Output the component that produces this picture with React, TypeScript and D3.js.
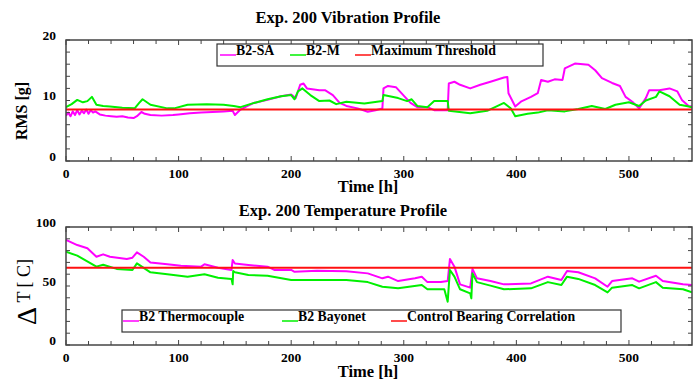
import React from "react";
import * as d3 from "d3";

// ---------- Data ----------
const vibSAHours = [0,2,4,6,8,10,12,14,16,18,20,22,24,26,30,35,40,45,50,55,60,63,67,70,75,85,95,100,110,120,130,140,148,150,155,160,167,179,191,200,204,208,211,214,225,230,237,243,249,259,268,275,281,282,286,293,301,306,312,321,327,339,340,345,350,359,368,377,389,392,393,399,404,413,419,422,428,434,441,443,452,464,470,476,485,492,497,503,509,515,518,527,536,543,547,553,556];
const vibSAValues = [7.5,8.0,7.4,8.2,7.6,8.4,7.7,8.3,7.9,8.5,7.8,8.4,8.0,8.2,7.7,7.5,7.4,7.3,7.4,7.2,7.1,7.4,8.1,7.8,7.6,7.5,7.6,7.7,7.9,8.0,8.1,8.2,8.3,7.6,8.5,9.0,9.6,10.1,10.7,11.0,10.4,12.6,12.8,12.0,11.7,11.7,10.9,9.6,9.1,8.7,8.15,8.4,8.7,12.0,12.4,12.2,10.6,9.6,8.9,8.9,8.4,8.4,12.8,13.1,12.6,12.0,12.6,13.1,13.8,13.9,11.2,9.0,9.8,10.6,11.2,13.4,13.1,13.5,13.4,15.3,16.1,15.9,15.0,13.7,12.9,12.4,10.6,9.8,8.7,10.4,11.7,11.7,12.0,11.5,10.1,9.1,9.0];

const vibMHours = [0,5,10,15,19,23,27,33,39,50,61,65,68,75,90,96,108,125,140,149,155,167,179,191,200,203,206,210,217,225,234,240,249,265,281,282,295,303,307,312,321,327,339,340,359,374,389,395,399,410,419,428,443,455,467,479,488,500,509,515,524,527,536,545,551,556];
const vibMValues = [8.9,9.4,10.1,9.7,9.9,10.6,9.3,9.1,9.0,8.8,8.7,9.6,10.2,9.3,8.7,8.7,9.3,9.4,9.3,9.1,8.9,9.6,10.2,10.7,10.9,10.2,11.5,12.0,10.9,9.9,10.0,9.4,9.8,9.5,9.9,10.9,10.4,9.9,10.2,9.1,8.9,9.9,9.9,8.3,7.9,8.3,9.6,8.7,7.4,7.8,8.0,8.4,8.2,8.6,9.1,8.6,9.3,9.7,9.1,10.0,10.6,11.5,10.7,9.3,9.1,8.9];

const vibThreshold = 8.5;

const tempTCHours = [0,10,19,27,33,39,54,59,63,69,75,90,102,120,123,135,147,148,150,162,179,185,200,203,223,249,268,281,286,295,310,316,321,333,339,341,345,350,359,361,365,377,389,413,428,440,445,455,470,481,485,503,509,524,530,548,556];
const tempTCValues = [89,84.7,82,74.8,76.8,74.8,72.9,74,78.5,74.8,70,68.4,67.2,66.4,68.4,65.5,63.6,72,69,67.8,66.4,63.6,63.6,62,62.9,62.5,60.7,56.5,57.9,54.2,56.5,57.9,53.3,53.3,54.2,72.9,66.4,51.4,48.6,64.4,56.5,54.2,51.4,52.2,57.9,55.1,62.7,61.6,56.5,49.4,54.2,56.5,53.7,58.7,54.2,51.4,50.8];

const tempBayHours = [0,10,27,33,45,59,63,75,90,108,123,135,147,148,148.5,150,162,179,200,223,249,268,281,295,316,321,336,339,341,345,350,359,360,361,365,377,389,413,428,440,445,455,470,481,485,503,509,524,530,548,556];
const tempBayValues = [79,75.7,66.4,68,64.5,63.6,69.2,61.6,59.9,57.9,59.9,57,56,51.4,62.7,61.6,59.3,58.6,55,55,55,53.3,49.4,48,50.8,47.2,47.2,36.7,63.6,57.9,47.2,43.8,39.5,60.7,53.3,50.3,47.2,48,53.3,50.8,57.9,56,50.8,44.6,48.6,50.8,48,53.3,48.6,47.2,44.6];

const tempControl = 65.5;

const xTicks = [0, 100, 200, 300, 400, 500];
const vibYTicks = [0, 10, 20];
const tempYTicks = [0, 50, 100];

const vibLegend = ["B2-SA", "B2-M", "Maximum Threshold"];
const tempLegend = ["B2 Thermocouple", "B2 Bayonet", "Control Bearing Correlation"];

const MAGENTA = "#ff00ff";
const GREEN = "#00f000";
const RED = "#ff1010";
const FONT = "'Liberation Serif', 'Times New Roman', serif";

type Pt = [number, number];
const zip = (a: number[], b: number[]): Pt[] => a.map((h, i) => [h, b[i]]);

function Panel(props: {
  top: number; bottom: number; yMax: number; yTicks: number[]; minorStep: number;
  series: { pts: Pt[]; color: string }[]; ref: number;
}) {
  const { top, bottom, yMax, yTicks, minorStep, series } = props;
  const left = 66, right = 692;
  const x = d3.scaleLinear().domain([0, 556]).range([left, right]);
  const y = d3.scaleLinear().domain([0, yMax]).range([bottom, top]);
  const line = d3.line<Pt>().x(d => x(d[0])).y(d => y(d[1]));
  const xMinor = d3.range(0, 557, 20);
  const yMinor = d3.range(0, yMax + 0.001, minorStep);
  return (
    <g>
      <clipPath id={"clip" + top}>
        <rect x={left} y={top} width={right - left} height={bottom - top} />
      </clipPath>
      <g clipPath={`url(#clip${top})`}>
        {series.map((s, i) => (
          <path key={i} d={line(s.pts) || ""} fill="none" stroke={s.color} strokeWidth={2} strokeLinejoin="round" />
        ))}
        <line x1={left} x2={right} y1={y(props.ref)} y2={y(props.ref)} stroke={RED} strokeWidth={2} />
      </g>
      {xMinor.map(t => (
        <g key={"x" + t}>
          <line x1={x(t)} x2={x(t)} y1={bottom} y2={bottom - (t % 100 === 0 ? 5 : 4)} stroke="#444" strokeWidth={1} />
          <line x1={x(t)} x2={x(t)} y1={top} y2={top + (t % 100 === 0 ? 5 : 4)} stroke="#444" strokeWidth={1} />
        </g>
      ))}
      {yMinor.map(t => (
        <g key={"y" + t}>
          <line x1={left} x2={left + 4} y1={y(t)} y2={y(t)} stroke="#444" strokeWidth={1} />
          <line x1={right} x2={right - 4} y1={y(t)} y2={y(t)} stroke="#444" strokeWidth={1} />
        </g>
      ))}
      <rect x={left} y={top} width={right - left} height={bottom - top} fill="none" stroke="#444" strokeWidth={1.5} />
      {xTicks.map(t => (
        <text key={"xl" + t} x={x(t)} y={bottom + 17} textAnchor="middle" fontFamily={FONT} fontWeight="bold" fontSize={13.5}>{t}</text>
      ))}
      {yTicks.map(t => (
        <text key={"yl" + t} x={left - 10} y={y(t) - 0.5} textAnchor="end" fontFamily={FONT} fontWeight="bold" fontSize={13.5}>{t}</text>
      ))}
    </g>
  );
}

function Legend(props: { x: number; y: number; w: number; h: number; items: string[]; offsets: number[] }) {
  const colors = [MAGENTA, GREEN, RED];
  return (
    <g>
      <rect x={props.x} y={props.y} width={props.w} height={props.h} fill="white" stroke="#333" strokeWidth={1.2} />
      {props.items.map((it, i) => {
        const ox = props.x + props.offsets[i];
        const ly = props.y + 11;
        return (
          <g key={it}>
            <line x1={ox} x2={ox + 16} y1={ly} y2={ly} stroke={colors[i]} strokeWidth={1.5} />
            <text x={ox + 16} y={ly} fontFamily={FONT} fontWeight="bold" fontSize={13.8}>{it}</text>
          </g>
        );
      })}
    </g>
  );
}

export default function App() {
  return (
    <svg width={698} height={383} style={{ position: "absolute", left: 0, top: 0, background: "white" }}>
      <rect width={698} height={383} fill="white" />
      <text x={348} y={23} textAnchor="middle" fontFamily={FONT} fontWeight="bold" fontSize={16.5}>Exp. 200 Vibration Profile</text>
      <Panel top={40} bottom={161} yMax={20} yTicks={vibYTicks} minorStep={2} ref={vibThreshold}
        series={[{ pts: zip(vibSAHours, vibSAValues), color: MAGENTA }, { pts: zip(vibMHours, vibMValues), color: GREEN }]} />
      <Legend x={217} y={44} w={326} h={22} items={vibLegend} offsets={[3, 73, 138]} />
      <text x={368} y={192} textAnchor="middle" fontFamily={FONT} fontWeight="bold" fontSize={16.5}>Time [h]</text>
      <text transform="translate(27,111) rotate(-90)" textAnchor="middle" fontFamily={FONT} fontWeight="bold" fontSize={16}>RMS [g]</text>

      <text x={343} y={216} textAnchor="middle" fontFamily={FONT} fontWeight="bold" fontSize={16.5}>Exp. 200 Temperature Profile</text>
      <Panel top={227} bottom={345} yMax={100} yTicks={tempYTicks} minorStep={10} ref={tempControl}
        series={[{ pts: zip(tempTCHours, tempTCValues), color: MAGENTA }, { pts: zip(tempBayHours, tempBayValues), color: GREEN }]} />
      <Legend x={122} y={310} w={499} h={22} items={tempLegend} offsets={[1, 160, 269]} />
      <text x={368} y={377} textAnchor="middle" fontFamily={FONT} fontWeight="bold" fontSize={16.5}>Time [h]</text>
      <text transform="translate(30,292) rotate(-90)" textAnchor="middle" fontFamily={FONT} fontSize={18}>
        <tspan fontSize={28} dy={6}>Δ</tspan><tspan dy={-6}> T [  C]</tspan>
      </text>
    </svg>
  );
}
